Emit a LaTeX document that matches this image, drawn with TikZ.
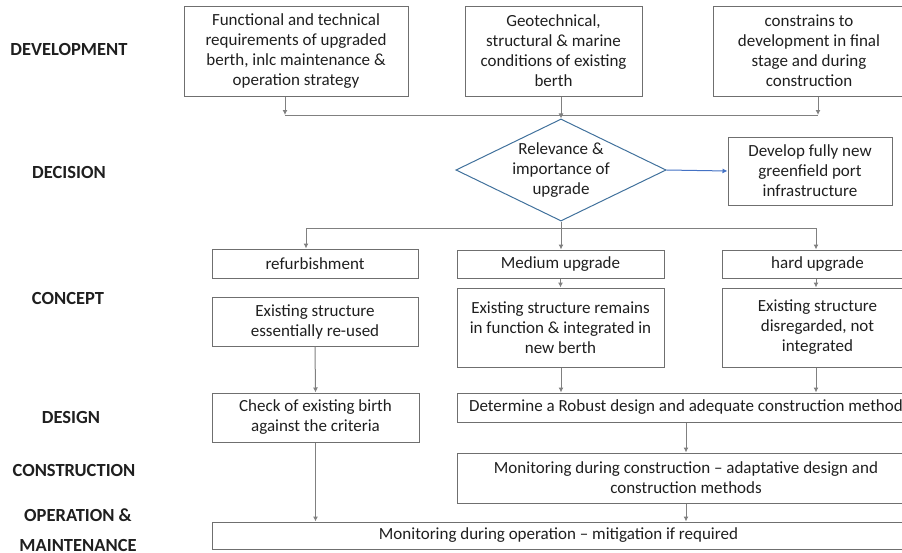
\documentclass[tikz,border=0pt]{standalone}
\usepackage{fontspec}
\setmainfont{Carlito}
\usetikzlibrary{shapes.geometric,arrows.meta}
\definecolor{boxgray}{HTML}{6F6F6F}
\definecolor{linegray}{HTML}{808080}
\definecolor{txtgray}{HTML}{1F1F1F}
\definecolor{diablue}{HTML}{41719C}
\definecolor{arrblue}{HTML}{4472C4}

\begin{document}
\begin{tikzpicture}[x=1pt, y=-1pt,
  every node/.style={font=\fontsize{17}{20}\selectfont, text=txtgray, align=center, inner sep=0pt},
  box/.style={rectangle, draw=boxgray, line width=1pt},
  phase/.style={font=\fontsize{18.5}{20}\selectfont\bfseries},
  line/.style={draw=linegray, line width=1pt},
  flow/.style={line, -{Latex[length=5pt,width=5pt]}}]
  \useasboundingbox (0,0) rectangle (902,552);
  \node [phase] (dev) at (69,49) {DEVELOPMENT};
  \node [phase] (deci) at (69,172) {DECISION};
  \node [phase] (conc) at (68,298) {CONCEPT};
  \node [phase] (desi) at (71,417) {DESIGN};
  \node [phase] (cons) at (74,470) {CONSTRUCTION};
  \node [phase, font=\fontsize{18.5}{30}\selectfont\bfseries] (oper) at (78,530) {OPERATION \&\\MAINTENANCE};
  \node [box, minimum width=224pt, minimum height=90pt] (func) at (296,51) {Functional and technical\\requirements of upgraded\\berth, inlc maintenance \&\\operation strategy};
  \node [box, minimum width=177pt, minimum height=90pt] (geo) at (553.5,51) {Geotechnical,\\structural \& marine\\conditions of existing\\berth};
  \node [box, minimum width=192pt, minimum height=90pt] (limit) at (809,51) {constrains to\\development in final\\stage and during\\construction};
  \node [diamond, draw=diablue, line width=1pt, minimum width=206pt, minimum height=100pt, shape aspect=2.06] (relev) at (561,170) {Relevance \&\\importance of\\upgrade};
  \node [box, minimum width=164pt, minimum height=68pt] (green) at (810,171) {Develop fully new\\greenfield port\\infrastructure};
  \node [box, minimum width=206pt, minimum height=29pt] (refurb) at (315,263.5) {refurbishment};
  \node [box, minimum width=207pt, minimum height=28pt] (medium) at (560.5,264) {Medium upgrade};
  \node [box, minimum width=191pt, minimum height=28pt] (hard) at (817.5,264) {hard upgrade};
  \node [box, minimum width=206pt, minimum height=49pt] (reuse) at (315,321.5) {Existing structure\\essentially re-used};
  \node [box, minimum width=207pt, minimum height=79pt] (remain) at (560.5,327.5) {Existing structure remains\\in function \& integrated in\\new berth};
  \node [box, minimum width=191pt, minimum height=79pt] (disreg) at (817.5,327.5) {Existing structure\\disregarded, not\\integrated};
  \node [box, minimum width=207pt, minimum height=49pt] (check) at (315.5,417.5) {Check of existing birth\\against the criteria};
  \node [box, minimum width=458pt, minimum height=29pt] (robust) at (686,407.5) {Determine a Robust design and adequate construction method};
  \node [box, minimum width=458pt, minimum height=50pt] (moncons) at (686,478) {Monitoring during construction -- adaptative design and\\construction methods};
  \node [box, minimum width=693pt, minimum height=27pt] (monop) at (558.5,535.5) {Monitoring during operation -- mitigation if required};
  \coordinate (b1) at (285,115);
  \coordinate (b2) at (818,115);
  \coordinate (c1) at (306,228);
  \coordinate (c2) at (816,228);
  \draw [line] (b1) -- (b2);
  \draw [flow] (b1 |- func.south) -- (b1);
  \draw [flow] (b2 |- limit.south) -- (b2);
  \draw [flow] (relev.north |- geo.south) -- (relev.north);
  \draw [flow, draw=arrblue] (relev.east) -- (green.west);
  \draw [line] (c1) -- (c2);
  \draw [flow] (relev.south) -- (relev.south |- medium.north);
  \draw [flow] (c1) -- (c1 |- refurb.north);
  \draw [flow] (c2) -- (c2 |- hard.north);
  \draw [flow] (medium.south) -- (remain.north);
  \draw [flow] (c2 |- hard.south) -- (c2 |- disreg.north);
  \draw [flow] (reuse.south) -- (check.north);
  \draw [flow] (relev.south |- remain.south) -- (relev.south |- robust.north);
  \draw [flow] (c2 |- disreg.south) -- (c2 |- robust.north);
  \draw [flow] (robust.south) -- (moncons.north);
  \draw [flow] (moncons.south) -- (moncons.south |- monop.north);
  \draw [flow] (check.south) -- (check.south |- monop.north);
\end{tikzpicture}
\end{document}
